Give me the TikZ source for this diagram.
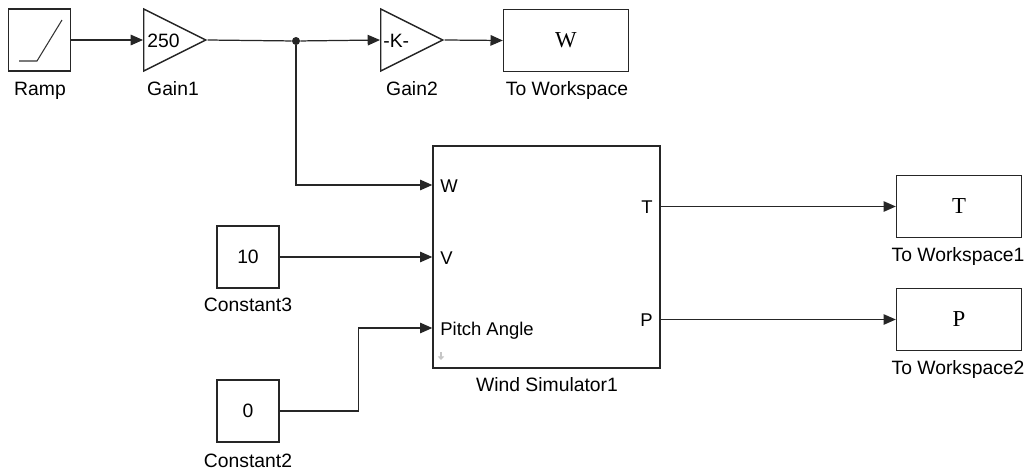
\documentclass[tikz,border=0pt]{standalone}
\usepackage{fontspec}
\setmainfont{Liberation Sans}
\newfontfamily\wsfont{Liberation Serif}
\usetikzlibrary{positioning, arrows.meta, shapes.geometric, calc}

\begin{document}
\begin{tikzpicture}[x=0.02cm, y=-0.02cm,
  blk/.style={draw=black!85, line width=0.8pt, fill=white, inner sep=0pt,
    minimum width=1.24cm, minimum height=1.24cm, font=\fontsize{11}{13}\selectfont},
  wsblk/.style={blk, minimum width=2.5cm, font=\wsfont\fontsize{13}{15}\selectfont},
  gain/.style={draw=black!85, line width=0.8pt, isosceles triangle, isosceles triangle stretches,
    inner sep=0pt, minimum width=1.24cm, minimum height=1.24cm, anchor=lower side},
  sig/.style={draw=black!85, line width=0.7pt, -{Triangle[length=7pt,width=6pt]}},
  lbl/.style={font=\fontsize{11}{13}\selectfont, inner sep=0pt, anchor=base},
  port/.style={font=\fontsize{10.5}{12}\selectfont, inner sep=0pt}]
  \useasboundingbox (0,0) rectangle (1035,474);

  % Blocks
  \node[blk] (ramp) at (39.5,40) {};
  \draw[line width=0.6pt, black!80] (19,61) -- (37,61) -- (62,20);
  \node[gain] (g1) at (143,40) {};
  \node[port, anchor=west, font=\fontsize{11}{13}\selectfont] (g1txt) at (147,41) {250};
  \node[circle, fill=black!85, inner sep=0pt, minimum size=0.16cm] (dot) at (296,41) {};
  \node[gain] (g2) at (380,40) {};
  \node[port, anchor=west, font=\fontsize{11}{13}\selectfont] (g2txt) at (383,41) {-K-};
  \node[wsblk] (ws) at (566,40.5) {W};

  \node[blk] (c3) at (248,257) {10};
  \node[blk] (c2) at (248,411) {0};

  \node[blk, minimum width=4.54cm, minimum height=4.44cm] (sim) at (546.5,257) {};
  \draw[gray!45, line width=0.8pt, -{Triangle[length=2pt,width=3.5pt]}] (441,352) -- (441,360);

  \node[wsblk] (ws1) at (959,206.5) {T};
  \node[wsblk] (ws2) at (959,319.5) {P};

  % Ports
  \node[port, anchor=base west] (pW) at (440,192) {W};
  \node[port, anchor=base west] (pV) at (440,264) {V};
  \node[port, anchor=base west] (pPA) at (440,335) {Pitch Angle};
  \node[port, anchor=base east] (pT) at (653,213) {T};
  \node[port, anchor=base east] (pP) at (653,326) {P};
  \coordinate (simW) at (sim.west |- 0,185);
  \coordinate (simPA) at (sim.west |- 0,328);

  % Labels
  \node[lbl] (lramp) at (40,95) {Ramp};
  \node[lbl] (lg1) at (173,95) {Gain1};
  \node[lbl] (lg2) at (412,95) {Gain2};
  \node[lbl] (lws) at (567,95) {To Workspace};
  \node[lbl] (lc3) at (248,311) {Constant3};
  \node[lbl] (lc2) at (248,467) {Constant2};
  \node[lbl] (lsim) at (547,391) {Wind Simulator1};
  \node[lbl] (lws1) at (958,261) {To Workspace1};
  \node[lbl] (lws2) at (958,374) {To Workspace2};

  % Lines
  \draw[sig] (ramp.east) -- (g1.lower side);
  \draw[draw=black!85, line width=0.7pt] (g1.apex) -- (dot);
  \draw[sig] (dot) -- (g2.lower side);
  \draw[sig] (g2.apex) -- (ws.west);
  \draw[sig] (dot) |- (simW);
  \draw[sig] (c3.east) -- (sim.west |- c3);
  \draw[sig] (c2.east) -- ++(79,0) |- (simPA);
  \draw[sig] (sim.east |- ws1) -- (ws1.west);
  \draw[sig] (sim.east |- ws2) -- (ws2.west);
\end{tikzpicture}
\end{document}
